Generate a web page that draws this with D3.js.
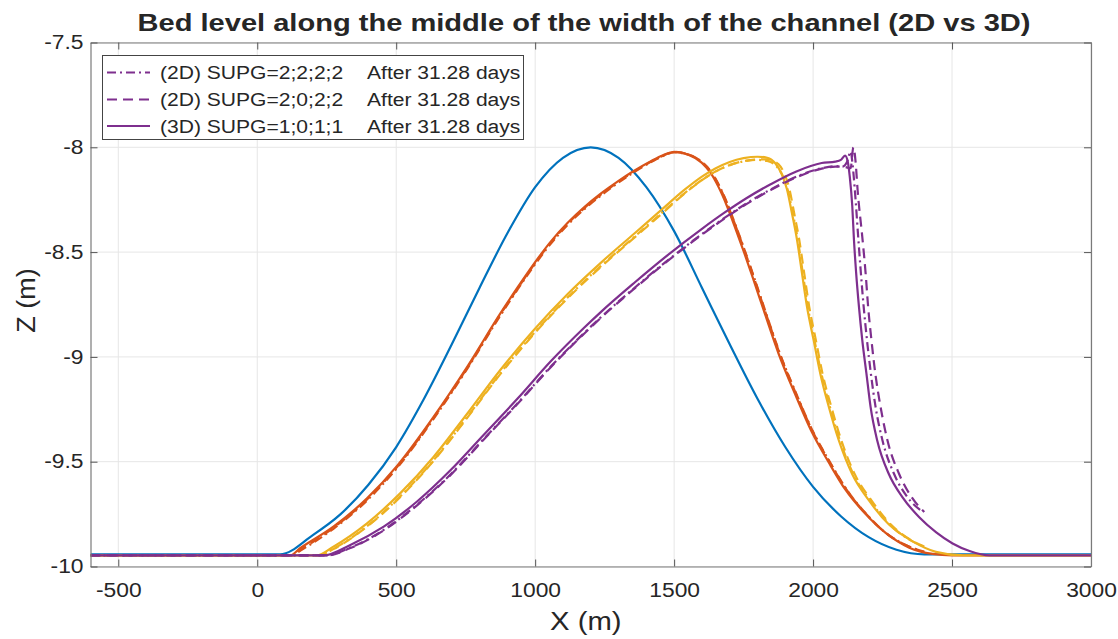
<!DOCTYPE html>
<html>
<head>
<meta charset="utf-8">
<script src="https://cdn.jsdelivr.net/npm/d3@7"></script>
<style>
  body { margin: 0; background: #fff; }
  text { font-family: Arial, "Liberation Sans", Helvetica, sans-serif; fill: #262626; }
</style>
</head>
<body>
<svg id="chart" width="1118" height="639"></svg>
<script>
// ---- Axis ticks -------------------------------------------------------------
const xTicks = [-500, 0, 500, 1000, 1500, 2000, 2500, 3000];
const xTickLabels = ["-500", "0", "500", "1000", "1500", "2000", "2500", "3000"];
const yTicks = [-10, -9.5, -9, -8.5, -8, -7.5];
const yTickLabels = ["-10", "-9.5", "-9", "-8.5", "-8", "-7.5"];

// ---- Bed profiles [X (m), Z (m)] ---------------------------------------------
// initial bed (t = 0)
const bedInitial = [[-600,-9.942],[82,-9.942],[200,-9.85],[300,-9.75],[400,-9.61],[500,-9.43],[600,-9.2],[700,-8.94],[800,-8.67],[900,-8.41],[1000,-8.19],[1100,-8.05],[1200,-8.0],[1300,-8.05],[1400,-8.19],[1500,-8.40],[1600,-8.67],[1700,-8.94],[1800,-9.2],[1900,-9.43],[2000,-9.62],[2100,-9.76],[2200,-9.86],[2300,-9.92],[2400,-9.942],[3000,-9.942]];

// second output time
const bedT1_2D_2222 = [[-600,-9.947],[125,-9.947],[160,-9.92],[274,-9.82],[395,-9.685],[503,-9.53],[635,-9.295],[756,-9.056],[876,-8.80],[936,-8.68],[996,-8.565],[1056,-8.46],[1117,-8.37],[1177,-8.295],[1237,-8.23],[1300,-8.168],[1346,-8.127],[1418,-8.07],[1460,-8.042],[1500,-8.024],[1556,-8.037],[1604,-8.075],[1635,-8.12],[1665,-8.19],[1695,-8.28],[1725,-8.385],[1755,-8.495],[1785,-8.61],[1833,-8.80],[1881,-8.985],[1941,-9.18],[2001,-9.36],[2062,-9.505],[2122,-9.635],[2192,-9.75],[2262,-9.84],[2346,-9.905],[2400,-9.93]];
const bedT1_2D_2022 = [[-600,-9.947],[122,-9.947],[158,-9.918],[274,-9.815],[395,-9.68],[503,-9.525],[635,-9.29],[756,-9.051],[876,-8.795],[936,-8.675],[996,-8.56],[1056,-8.455],[1117,-8.365],[1177,-8.29],[1237,-8.225],[1300,-8.164],[1346,-8.124],[1418,-8.068],[1460,-8.04],[1500,-8.022],[1555,-8.036],[1603,-8.074],[1634,-8.12],[1664,-8.19],[1694,-8.28],[1724,-8.385],[1754,-8.495],[1784,-8.61],[1832,-8.80],[1880,-8.985],[1940,-9.18],[2000,-9.36],[2061,-9.505],[2121,-9.635],[2191,-9.75],[2262,-9.84],[2346,-9.905],[2400,-9.93]];
const bedT1_3D = [[-600,-9.947],[118,-9.947],[154,-9.913],[274,-9.81],[395,-9.675],[503,-9.52],[635,-9.285],[756,-9.046],[876,-8.79],[936,-8.67],[996,-8.555],[1056,-8.45],[1117,-8.36],[1177,-8.285],[1237,-8.22],[1300,-8.16],[1346,-8.12],[1418,-8.065],[1460,-8.038],[1500,-8.022],[1551,-8.035],[1599,-8.073],[1630,-8.12],[1660,-8.19],[1690,-8.28],[1720,-8.385],[1750,-8.495],[1780,-8.61],[1828,-8.80],[1876,-8.985],[1936,-9.18],[1996,-9.36],[2057,-9.505],[2117,-9.635],[2189,-9.75],[2261,-9.84],[2346,-9.91],[2430,-9.94],[2500,-9.947],[3000,-9.947]];

// third output time
const bedT2_2D_2222 = [[-600,-9.947],[220,-9.947],[274,-9.915],[395,-9.808],[515,-9.665],[635,-9.492],[756,-9.286],[876,-9.076],[996,-8.886],[1117,-8.716],[1237,-8.566],[1358,-8.426],[1453,-8.316],[1540,-8.216],[1600,-8.156],[1650,-8.115],[1700,-8.085],[1750,-8.067],[1795,-8.06],[1835,-8.065],[1868,-8.09],[1892,-8.14],[1910,-8.21],[1927,-8.315],[1945,-8.44],[1963,-8.60],[1981,-8.76],[2005,-8.92],[2030,-9.08],[2061,-9.24],[2097,-9.40],[2145,-9.56],[2205,-9.685],[2276,-9.80],[2358,-9.88],[2400,-9.905]];
const bedT2_2D_2022 = [[-600,-9.947],[222,-9.947],[274,-9.917],[395,-9.81],[515,-9.668],[635,-9.495],[756,-9.29],[876,-9.08],[996,-8.89],[1117,-8.72],[1237,-8.57],[1358,-8.43],[1453,-8.32],[1540,-8.218],[1600,-8.157],[1650,-8.115],[1700,-8.085],[1750,-8.066],[1800,-8.058],[1840,-8.058],[1875,-8.08],[1898,-8.13],[1915,-8.2],[1932,-8.315],[1950,-8.44],[1968,-8.60],[1986,-8.76],[2010,-8.92],[2034,-9.08],[2066,-9.24],[2102,-9.40],[2150,-9.56],[2210,-9.685],[2280,-9.80],[2360,-9.88],[2400,-9.905]];
const bedT2_3D = [[-600,-9.947],[214,-9.947],[274,-9.905],[395,-9.794],[515,-9.65],[635,-9.476],[756,-9.27],[876,-9.06],[996,-8.87],[1117,-8.70],[1237,-8.55],[1358,-8.41],[1453,-8.30],[1540,-8.20],[1600,-8.14],[1650,-8.10],[1700,-8.07],[1750,-8.052],[1800,-8.045],[1835,-8.05],[1864,-8.076],[1888,-8.13],[1906,-8.2],[1924,-8.315],[1942,-8.44],[1960,-8.60],[1978,-8.76],[2002,-8.92],[2026,-9.08],[2057,-9.24],[2093,-9.40],[2141,-9.56],[2201,-9.685],[2273,-9.80],[2358,-9.88],[2442,-9.93],[2540,-9.947],[3000,-9.947]];

// final time, after 31.28 days
const bedT3_2D_2222 = [[-600,-9.947],[250,-9.947],[335,-9.91],[455,-9.825],[575,-9.705],[696,-9.56],[816,-9.39],[936,-9.222],[1057,-9.045],[1177,-8.885],[1237,-8.81],[1358,-8.67],[1478,-8.538],[1599,-8.415],[1681,-8.337],[1760,-8.268],[1849,-8.2],[1940,-8.14],[2031,-8.1],[2080,-8.09],[2105,-8.092],[2122,-8.07],[2135,-8.02],[2142,-8.08],[2150,-8.2],[2163,-8.44],[2172,-8.60],[2182,-8.76],[2194,-8.92],[2208,-9.08],[2225,-9.24],[2250,-9.40],[2292,-9.56],[2340,-9.67],[2395,-9.74]];
const bedT3_2D_2022 = [[-600,-9.947],[252,-9.947],[335,-9.912],[455,-9.828],[575,-9.708],[696,-9.563],[816,-9.393],[936,-9.225],[1057,-9.048],[1177,-8.888],[1237,-8.813],[1358,-8.673],[1478,-8.541],[1599,-8.418],[1681,-8.34],[1760,-8.271],[1849,-8.203],[1940,-8.143],[2031,-8.102],[2080,-8.092],[2115,-8.094],[2135,-8.10],[2145,-8.0],[2153,-8.07],[2160,-8.2],[2178,-8.44],[2189,-8.60],[2198,-8.76],[2210,-8.92],[2224,-9.08],[2243,-9.24],[2268,-9.40],[2310,-9.56],[2355,-9.67],[2400,-9.74]];
const bedT3_3D = [[-600,-9.947],[238,-9.947],[335,-9.897],[455,-9.81],[575,-9.69],[696,-9.54],[816,-9.37],[936,-9.20],[1057,-9.02],[1177,-8.86],[1237,-8.785],[1358,-8.645],[1478,-8.513],[1599,-8.39],[1681,-8.312],[1760,-8.243],[1849,-8.175],[1940,-8.115],[2031,-8.075],[2080,-8.068],[2100,-8.06],[2115,-8.04],[2125,-8.07],[2132,-8.14],[2141,-8.28],[2147,-8.44],[2155,-8.60],[2165,-8.76],[2177,-8.92],[2192,-9.08],[2207,-9.24],[2231,-9.40],[2273,-9.56],[2322,-9.67],[2382,-9.765],[2442,-9.836],[2502,-9.89],[2563,-9.926],[2635,-9.947],[3000,-9.947]];

// ---- Legend text ------------------------------------------------------------
const legendLabels = ["(2D) SUPG=2;2;2;2", "(2D) SUPG=2;0;2;2", "(3D) SUPG=1;0;1;1"];
const legendTimes = ["After 31.28 days", "After 31.28 days", "After 31.28 days"];

// ---- Styles -----------------------------------------------------------------
const C = { blue: "#0072BD", orange: "#D95319", yellow: "#EDB120", purple: "#7E2F8E" };
const DASH = { dashdot: "9,4,2,4", dashed: "10,6", solid: null };

const series = [
  { data: bedInitial,    color: C.blue,   dash: DASH.solid },
  { data: bedT1_2D_2222, color: C.orange, dash: DASH.dashdot },
  { data: bedT1_2D_2022, color: C.orange, dash: DASH.dashed },
  { data: bedT1_3D,      color: C.orange, dash: DASH.solid },
  { data: bedT2_2D_2222, color: C.yellow, dash: DASH.dashdot },
  { data: bedT2_2D_2022, color: C.yellow, dash: DASH.dashed },
  { data: bedT2_3D,      color: C.yellow, dash: DASH.solid },
  { data: bedT3_2D_2222, color: C.purple, dash: DASH.dashdot },
  { data: bedT3_2D_2022, color: C.purple, dash: DASH.dashed },
  { data: bedT3_3D,      color: C.purple, dash: DASH.solid }
];
const legendStyles = [series[7], series[8], series[9]];

// ---- Layout -----------------------------------------------------------------
const plot = { left: 90.5, right: 1091, top: 42.5, bottom: 566.5 };
const STRETCH = 1.17;   // horizontal widening of all lettering

const svg = d3.select("#chart");
const x = d3.scaleLinear().domain([-600, 3000]).range([plot.left, plot.right]);
const y = d3.scaleLinear().domain([-10, -7.5]).range([plot.bottom, plot.top]);

function widen(sel, k) {
  sel.each(function () {
    const w = this.getComputedTextLength();
    this.setAttribute("textLength", w * k);
    this.setAttribute("lengthAdjust", "spacingAndGlyphs");
  });
}

// plot background
svg.append("rect").attr("x", plot.left).attr("y", plot.top)
  .attr("width", plot.right - plot.left).attr("height", plot.bottom - plot.top)
  .attr("fill", "#fff");

// grid
const grid = svg.append("g").attr("stroke", "#e6e6e6").attr("stroke-width", 1);
grid.selectAll(".gx").data(xTicks).join("line")
  .attr("x1", d => x(d)).attr("x2", d => x(d)).attr("y1", plot.top).attr("y2", plot.bottom);
grid.selectAll(".gy").data(yTicks).join("line")
  .attr("x1", plot.left).attr("x2", plot.right).attr("y1", d => y(d)).attr("y2", d => y(d));

// profiles
svg.append("clipPath").attr("id", "clip").append("rect")
  .attr("x", plot.left).attr("y", plot.top)
  .attr("width", plot.right - plot.left).attr("height", plot.bottom - plot.top);
const line = d3.line().x(d => x(d[0])).y(d => y(d[1])).curve(d3.curveMonotoneX);
svg.append("g").attr("clip-path", "url(#clip)")
  .selectAll("path").data(series).join("path")
  .attr("d", d => line(d.data))
  .attr("fill", "none")
  .attr("stroke", d => d.color)
  .attr("stroke-width", 2.2)
  .attr("stroke-linejoin", "round")
  .attr("stroke-dasharray", d => d.dash);

// axes (ticks inside, box on all four sides)
const axisColor = "#7a7a7a";
function styleAxis(g) {
  g.selectAll("path.domain").attr("stroke", axisColor).attr("stroke-width", 1.2);
  g.selectAll(".tick line").attr("stroke", "#555").attr("stroke-width", 1);
  g.selectAll(".tick text").attr("fill", "#262626").style("font-size", "19.5px")
    .style("font-family", 'Arial, "Liberation Sans", sans-serif');
}
const gxB = svg.append("g").attr("transform", `translate(0,${plot.bottom})`)
  .call(d3.axisBottom(x).tickValues(xTicks).tickFormat((d, i) => xTickLabels[i])
    .tickSizeInner(-7).tickSizeOuter(0).tickPadding(16.5));
styleAxis(gxB);
const gxT = svg.append("g").attr("transform", `translate(0,${plot.top})`)
  .call(d3.axisTop(x).tickValues(xTicks).tickFormat("").tickSizeInner(-7).tickSizeOuter(0));
styleAxis(gxT);
const gyL = svg.append("g").attr("transform", `translate(${plot.left},0)`)
  .call(d3.axisLeft(y).tickValues(yTicks).tickFormat((d, i) => yTickLabels[i])
    .tickSizeInner(-7).tickSizeOuter(0).tickPadding(7));
styleAxis(gyL);
const gyR = svg.append("g").attr("transform", `translate(${plot.right},0)`)
  .call(d3.axisRight(y).tickValues(yTicks).tickFormat("").tickSizeInner(-7).tickSizeOuter(0));
styleAxis(gyR);
widen(svg.selectAll(".tick text"), STRETCH);

// axis titles
const xl = svg.append("text").attr("x", (plot.left + plot.right) / 2 - 5).attr("y", 630)
  .attr("text-anchor", "middle").style("font-size", "25px").text("X (m)");
widen(xl, STRETCH);
const yl = svg.append("text").attr("transform", `translate(35,${(plot.top + plot.bottom) / 2 - 4}) rotate(-90)`)
  .attr("text-anchor", "middle").style("font-size", "25px").text("Z (m)");
widen(yl, 1.08);

// title
const title = svg.append("text").attr("x", 584).attr("y", 31)
  .attr("text-anchor", "middle").style("font-size", "23px").style("font-weight", "bold")
  .text("Bed level along the middle of the width of the channel (2D vs 3D)");
title.attr("textLength", 893).attr("lengthAdjust", "spacingAndGlyphs");

// legend
const lg = svg.append("g");
lg.append("rect").attr("x", 102.5).attr("y", 55.5).attr("width", 421).attr("height", 84)
  .attr("fill", "#fff").attr("stroke", "#444").attr("stroke-width", 1);
const rowY = [72.5, 99.5, 126];
legendStyles.forEach((s, i) => {
  lg.append("line").attr("x1", 107).attr("x2", 150).attr("y1", rowY[i]).attr("y2", rowY[i])
    .attr("stroke", s.color).attr("stroke-width", 2.2).attr("stroke-dasharray", s.dash);
  const t1 = lg.append("text").attr("x", 160).attr("y", rowY[i] + 6.5)
    .style("font-size", "18px").text(legendLabels[i]);
  widen(t1, STRETCH);
  const t2 = lg.append("text").attr("x", 367).attr("y", rowY[i] + 6.5)
    .style("font-size", "18px").text(legendTimes[i]);
  widen(t2, STRETCH);
});
</script>
</body>
</html>
